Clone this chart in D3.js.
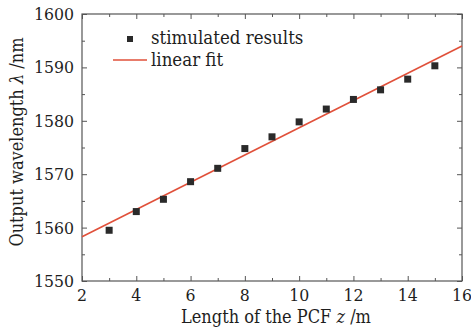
<!DOCTYPE html>
<html>
<head>
<meta charset="utf-8">
<script src="https://cdn.jsdelivr.net/npm/d3@7"></script>
<style>
  body { margin: 0; background: #fff; }
  text { font-family: "DejaVu Serif", serif; font-stretch: condensed; fill: #1e1e1e; }
</style>
</head>
<body>
<div id="chart"></div>
<script>
// fiber length (m) and simulated output wavelength (nm)
const lengths = [3, 4, 5, 6, 7, 8, 9, 10, 11, 12, 13, 14, 15];
const wavelengths = [1559.5, 1563.0, 1565.3, 1568.6, 1571.1, 1574.8, 1577.0, 1579.8, 1582.2, 1584.0, 1585.8, 1587.8, 1590.3];
// linear fit coefficients
const fitSlope = 2.55;
const fitIntercept = 1553.2;
const xTicks = [2, 4, 6, 8, 10, 12, 14, 16];
const yTicks = [1550, 1560, 1570, 1580, 1590, 1600];

const W = 471, H = 328;
const margin = {top: 14, right: 9, bottom: 47, left: 82};
const w = W - margin.left - margin.right;
const h = H - margin.top - margin.bottom;

const svg = d3.select("#chart").append("svg")
    .attr("width", W).attr("height", H);
const g = svg.append("g")
    .attr("transform", `translate(${margin.left},${margin.top})`);

const x = d3.scaleLinear().domain([2, 16]).range([0, w]);
const y = d3.scaleLinear().domain([1550, 1600]).range([h, 0]);

// inward ticks on all four sides
const minorX = d3.range(3, 16, 2);
const minorY = d3.range(1555, 1600, 10);
function tickSet(sel, axis) {
    sel.call(axis).call(s => s.select(".domain").remove());
    sel.selectAll("line").attr("stroke", "#555");
}
tickSet(g.append("g").attr("transform", `translate(0,${h})`),
    d3.axisBottom(x).tickValues(xTicks).tickSize(-5).tickFormat(""));
tickSet(g.append("g").attr("transform", `translate(0,${h})`),
    d3.axisBottom(x).tickValues(minorX).tickSize(-3).tickFormat(""));
tickSet(g.append("g"), d3.axisTop(x).tickValues(xTicks).tickSize(-5).tickFormat(""));
tickSet(g.append("g"), d3.axisTop(x).tickValues(minorX).tickSize(-3).tickFormat(""));
tickSet(g.append("g"), d3.axisLeft(y).tickValues(yTicks).tickSize(-5).tickFormat(""));
tickSet(g.append("g"), d3.axisLeft(y).tickValues(minorY).tickSize(-3).tickFormat(""));
tickSet(g.append("g").attr("transform", `translate(${w},0)`),
    d3.axisRight(y).tickValues(yTicks).tickSize(-5).tickFormat(""));
tickSet(g.append("g").attr("transform", `translate(${w},0)`),
    d3.axisRight(y).tickValues(minorY).tickSize(-3).tickFormat(""));

// tick labels
g.append("g").selectAll("text").data(xTicks).join("text")
    .attr("x", d => x(d)).attr("y", h + 20)
    .attr("text-anchor", "middle").attr("font-size", 17.5)
    .text(d => d);
g.append("g").selectAll("text").data(yTicks).join("text")
    .attr("x", -8).attr("y", d => y(d) + 6)
    .attr("text-anchor", "end").attr("font-size", 17.5)
    .text(d => d);

// frame
g.append("rect").attr("width", w).attr("height", h)
    .attr("fill", "none").attr("stroke", "#555").attr("stroke-width", 1.2);

// fit line
g.append("line")
    .attr("x1", x(2)).attr("y1", y(fitSlope * 2 + fitIntercept))
    .attr("x2", x(16)).attr("y2", y(fitSlope * 16 + fitIntercept))
    .attr("stroke", "#e0503a").attr("stroke-width", 1.6);

// points
const s = 7;
g.selectAll(".pt").data(lengths).join("rect").attr("class", "pt")
    .attr("x", (d) => x(d) - s / 2)
    .attr("y", (d, i) => y(wavelengths[i]) - s / 2)
    .attr("width", s).attr("height", s)
    .attr("fill", "#2a2a2a");

// legend
const lg = g.append("g");
lg.append("rect").attr("x", 45).attr("y", 22).attr("width", 6).attr("height", 6).attr("fill", "#2a2a2a");
lg.append("text").attr("x", 69).attr("y", 30).attr("font-size", 18.5).text("stimulated results");
lg.append("line").attr("x1", 31).attr("x2", 65).attr("y1", 46).attr("y2", 46)
    .attr("stroke", "#e0503a").attr("stroke-width", 1.6);
lg.append("text").attr("x", 69).attr("y", 52).attr("font-size", 18.5).text("linear fit");

// axis titles
const xt = svg.append("text")
    .attr("x", margin.left + w / 2 + 4).attr("y", 323)
    .attr("text-anchor", "middle").attr("font-size", 18);
xt.append("tspan").text("Length of the PCF ");
xt.append("tspan").attr("font-style", "italic").text("z");
xt.append("tspan").text(" /m");

const yt = svg.append("text")
    .attr("transform", `translate(23,142) rotate(-90)`)
    .attr("text-anchor", "middle").attr("font-size", 18);
yt.append("tspan").text("Output wavelength ");
yt.append("tspan").attr("font-style", "italic").text("λ");
yt.append("tspan").text(" /nm");
</script>
</body>
</html>
